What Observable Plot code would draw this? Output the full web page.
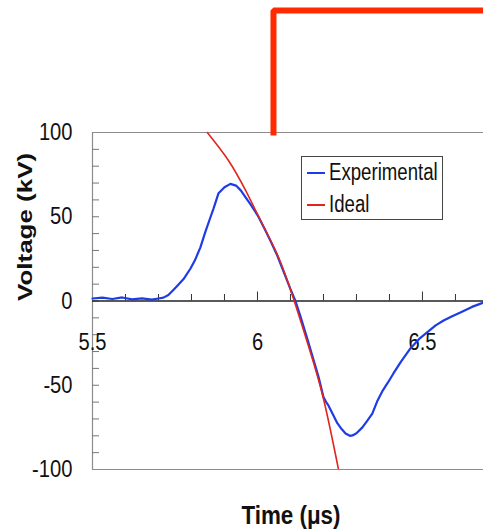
<!DOCTYPE html>
<html>
<head>
<meta charset="utf-8">
<script src="https://cdn.jsdelivr.net/npm/d3@7"></script>
<script src="https://cdn.jsdelivr.net/npm/@observablehq/plot@0.6"></script>
<style>
  html, body { margin: 0; padding: 0; background: #fff; }
  #wrap { position: relative; width: 483px; height: 529px; overflow: hidden; font-family: "Liberation Sans", Arial, sans-serif; }
  #legend { position: absolute; left: 301px; top: 156px; width: 142px; height: 64px; box-sizing: border-box;
            border: 1px solid #444; background: #fff; }
  .item { position: absolute; left: 0; width: 140px; height: 30px; }
  .sw { position: absolute; left: 5px; width: 18px; height: 0; top: 50%; border-top: 2px solid; margin-top: -1px; }
  .lab { position: absolute; left: 27px; top: 50%; transform: translateY(-52%) scaleX(0.81); transform-origin: left center;
         font-size: 23px; color: #111; line-height: 1; white-space: nowrap; }
</style>
</head>
<body>
<div id="wrap"></div>
<script>
// ---- data ----
const seriesNames = ["Experimental", "Ideal"];
const seriesColors = ["#1e3ce6", "#e0261c"];

// Experimental waveform: time (µs), voltage (kV)
const expTime = [5.50, 5.53, 5.56, 5.59, 5.62, 5.65, 5.68, 5.70, 5.715, 5.73, 5.745, 5.758, 5.776, 5.797, 5.81, 5.827,
  5.842, 5.858, 5.867, 5.882, 5.90, 5.918, 5.935, 5.95, 5.964, 5.98, 6.00, 6.02, 6.04, 6.06, 6.08, 6.10, 6.115,
  6.13, 6.152, 6.17, 6.185, 6.20, 6.208, 6.215, 6.228, 6.242, 6.255, 6.267, 6.28, 6.288, 6.30, 6.318, 6.333,
  6.348, 6.364, 6.38, 6.395, 6.412, 6.435, 6.464, 6.49, 6.515, 6.54, 6.564, 6.59, 6.615, 6.65, 6.685];
const expVolt = [1.5, 2.0, 1.2, 2.1, 1.0, 1.6, 0.8, 1.5, 2.0, 3.5, 6.5, 9.2, 13, 19.3, 24, 31.8,
  41, 50, 55, 64, 67.5, 69.5, 68.5, 65.5, 61.5, 57, 51, 43.5, 35.5, 27, 17, 7, 0,
  -9, -23, -35, -45, -57, -60, -62, -67, -72.5, -76, -78.6, -80, -79.8, -78.5, -75, -71,
  -66.8, -59, -53, -48.5, -43, -36, -28, -22.5, -18.5, -14.5, -11.6, -9, -6.8, -3.5, -0.9];

// Ideal waveform
const idealTime = [5.848, 5.912, 5.964, 6.014, 6.064, 6.109, 6.155, 6.20, 6.245];
const idealVolt = [100, 83.4, 65.6, 46, 25.8, 1.5, -27, -58, -99.4];

// Axis ticks
const yTickLabels = [-100, -50, 0, 50, 100];
const yMinorTicks = d3.range(-90, 100, 10);
const xTickLabels = [5.5, 6, 6.5];
const xMinorTicks = [5.6, 5.7, 5.8, 5.9, 6.1, 6.2, 6.3, 6.4, 6.6];
const xTitle = "Time (μs)";
const yTitle = "Voltage (kV)";

// Red step marker above the plot (time, kV)
const markerTime = [6.0485, 6.0485, 6.70];
const markerVolt = [98.2, 172.4, 172.4];

// ---- build tables ----
const expData = expTime.map((t, i) => ({t, v: expVolt[i]}));
const idealData = idealTime.map((t, i) => ({t, v: idealVolt[i]}));
const marker = markerTime.map((t, i) => ({t, v: markerVolt[i]}));

const svg = Plot.plot({
  width: 483,
  height: 529,
  marginLeft: 92,
  marginRight: 0,
  marginTop: 132,
  marginBottom: 60,
  style: {fontFamily: '"Liberation Sans", Arial, sans-serif', background: "#fff", color: "#111", overflow: "visible"},
  x: {domain: [5.5, 6.685], axis: null},
  y: {domain: [-100, 100], axis: null},
  marks: [
    // frame (top, bottom, left)
    Plot.ruleY([-100, 100], {stroke: "#8c8c8c", strokeWidth: 1.2}),
    Plot.ruleX([5.5], {stroke: "#8c8c8c", strokeWidth: 1.2}),
    // inner y ticks
    Plot.ruleY(yMinorTicks, {y: d => d, x1: 5.5, x2: 5.5, insetRight: -7, stroke: "#777"}),
    // zero axis line and its ticks
    Plot.ruleY([0], {stroke: "#222", strokeWidth: 1.4}),
    Plot.ruleX(xMinorTicks, {x: d => d, y1: 0, y2: 6.5 / 1.685, stroke: "#333"}),
    Plot.ruleX(xTickLabels.filter(d => d > 5.5), {x: d => d, y1: 0, y2: 9 / 1.685, stroke: "#333"}),
    // y tick labels
    Plot.axisY(yTickLabels, {tickSize: 0, tickPadding: 20, fontSize: 24, label: null, fill: "#111",
      tickFormat: d => String(d), ariaLabel: "ytick"}),
    // x tick labels near the zero line
    Plot.text(xTickLabels, {x: d => d, y: 0, dy: 41, text: d => String(d), fontSize: 24, fill: "#111", ariaLabel: "xtick"}),
    // curves
    Plot.line(expData, {x: "t", y: "v", stroke: seriesColors[0], strokeWidth: 2.2}),
    Plot.line(idealData, {x: "t", y: "v", stroke: seriesColors[1], strokeWidth: 1.6, curve: "natural"}),
    // red step marker
    Plot.line(marker, {x: "t", y: "v", stroke: "#ff2a00", strokeWidth: 6, strokeLinejoin: "miter", strokeLinecap: "butt"}),
    // axis titles
    Plot.text([yTitle], {frameAnchor: "left", dx: -67, rotate: -90, text: d => d, fontSize: 26, fontWeight: "bold",
      fill: "#111", ariaLabel: "ylabel"}),
    Plot.text([xTitle], {frameAnchor: "bottom", lineAnchor: "bottom", dx: 3, dy: 54, text: d => d, fontSize: 26,
      fontWeight: "bold", fill: "#111", ariaLabel: "xlabel"})
  ]
});

const wrap = document.getElementById("wrap");
wrap.appendChild(svg);

// condensed look of the original lettering
const sel = d3.select(svg);
sel.selectAll("text").each(function () {
  const txt = this.textContent;
  if (txt === yTitle) {
    this.setAttribute("transform", (this.getAttribute("transform") || "") + " scale(1,0.78)");
  } else if (txt === xTitle) {
    this.setAttribute("textLength", "99");
    this.setAttribute("lengthAdjust", "spacingAndGlyphs");
  } else {
    const len = this.getComputedTextLength();
    if (len > 0) {
      this.setAttribute("textLength", (len * 0.84).toFixed(1));
      this.setAttribute("lengthAdjust", "spacingAndGlyphs");
    }
  }
});

// legend (inside the plot area, upper right)
const legend = document.createElement("div");
legend.id = "legend";
seriesNames.forEach((name, i) => {
  const item = document.createElement("div");
  item.className = "item";
  item.style.top = (i === 0 ? 1 : 33) + "px";
  const sw = document.createElement("div");
  sw.className = "sw";
  sw.style.borderTopColor = seriesColors[i];
  const lab = document.createElement("div");
  lab.className = "lab";
  lab.textContent = name;
  item.appendChild(sw);
  item.appendChild(lab);
  legend.appendChild(item);
});
wrap.appendChild(legend);
</script>
</body>
</html>
